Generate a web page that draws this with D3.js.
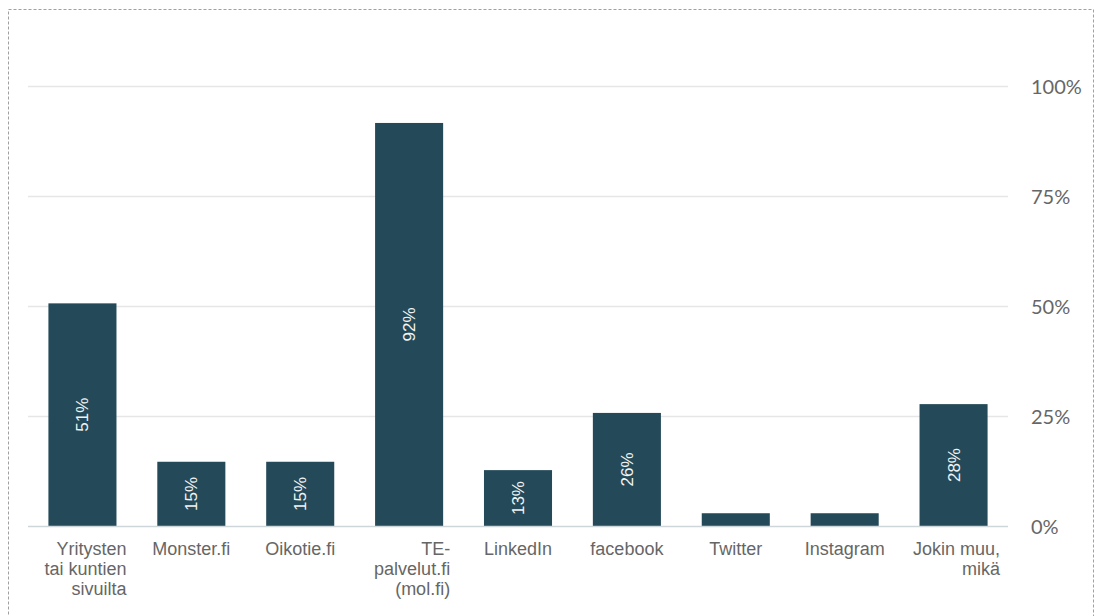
<!DOCTYPE html>
<html>
<head>
<meta charset="utf-8">
<script src="https://cdn.jsdelivr.net/npm/d3@7"></script>
<style>
  html, body { margin: 0; padding: 0; background: #fff; }
  svg { display: block; }
</style>
</head>
<body>
<svg id="chart" width="1101" height="616"></svg>
<script>
const categories = [
  "Yritysten\ntai kuntien\nsivuilta",
  "Monster.fi",
  "Oikotie.fi",
  "TE-\npalvelut.fi\n(mol.fi)",
  "LinkedIn",
  "facebook",
  "Twitter",
  "Instagram",
  "Jokin muu,\nmikä"
];
const values = [50.6, 14.6, 14.6, 91.6, 12.7, 25.7, 2.9, 2.9, 27.7];
const yTicks = [0, 25, 50, 75, 100];

const svg = d3.select("#chart");
const plot = { left: 28, right: 1008, top: 86, bottom: 526 };

// dashed frame
svg.append("rect")
  .attr("x", 8.5).attr("y", 9.5)
  .attr("width", 1085).attr("height", 620)
  .attr("fill", "none")
  .attr("stroke", "#a0a0a0")
  .attr("stroke-width", 1)
  .attr("stroke-dasharray", "3,2");

const x = d3.scaleBand()
  .domain(categories)
  .range([plot.left, plot.right])
  .paddingInner(0.375)
  .paddingOuter(0.1875);

const y = d3.scaleLinear()
  .domain([0, 100])
  .range([plot.bottom, plot.top]);

// gridlines
svg.append("g").selectAll("line")
  .data(yTicks.filter(d => d > 0))
  .join("line")
  .attr("x1", plot.left).attr("x2", plot.right)
  .attr("y1", d => Math.round(y(d)) + 0.5)
  .attr("y2", d => Math.round(y(d)) + 0.5)
  .attr("stroke", "#e6e6e6")
  .attr("stroke-width", 1.5);

// right axis labels
const yAxis = d3.axisRight(y)
  .tickValues(yTicks)
  .tickSize(0)
  .tickPadding(0)
  .tickFormat(d => d + "%");
const ya = svg.append("g")
  .attr("transform", `translate(1031,0)`)
  .call(yAxis);
ya.select(".domain").remove();
ya.selectAll("text")
  .attr("x", 0)
  .attr("dy", "0.35em")
  .attr("fill", "#666")
  .style("font-family", "Lato, 'Open Sans', sans-serif")
  .style("font-size", "20px");

// bars
svg.append("g").selectAll("rect")
  .data(values)
  .join("rect")
  .attr("x", (d, i) => x(categories[i]))
  .attr("width", x.bandwidth())
  .attr("y", d => y(d))
  .attr("height", d => y(0) - y(d))
  .attr("fill", "#244a59");

// baseline
svg.append("line")
  .attr("x1", plot.left).attr("x2", plot.right)
  .attr("y1", plot.bottom + 0.5).attr("y2", plot.bottom + 0.5)
  .attr("stroke", "#cfd6da")
  .attr("stroke-width", 1.5);

// value labels inside bars (rotated)
svg.append("g").selectAll("text")
  .data(values.map((v, i) => ({ v, i })).filter(d => y(0) - y(d.v) > 40))
  .join("text")
  .attr("transform", d => {
    const cx = x(categories[d.i]) + x.bandwidth() / 2;
    const cy = (y(d.v) + y(0)) / 2;
    return `translate(${cx},${cy}) rotate(-90)`;
  })
  .attr("text-anchor", "middle")
  .attr("dy", "0.35em")
  .attr("fill", "#f2f2f2")
  .style("font-family", "'Liberation Sans', Arial, sans-serif")
  .style("font-size", "17px")
  .text(d => Math.round(d.v) + "%");

// category labels (wrapped, right-aligned block centered under bar)
const lab = svg.append("g")
  .style("font-family", "'Liberation Sans', Arial, sans-serif")
  .style("font-size", "18px")
  .attr("fill", "#666");

categories.forEach((c, i) => {
  const lines = c.split("\n");
  const t = lab.append("text").attr("text-anchor", "end");
  lines.forEach((ln, k) => {
    t.append("tspan").attr("x", 0).attr("y", 555 + k * 20).text(ln);
  });
  let maxW = 0;
  t.selectAll("tspan").each(function () {
    maxW = Math.max(maxW, this.getComputedTextLength());
  });
  const cx = x(c) + x.bandwidth() / 2 + (lines.length > 1 ? 3 : 0);
  t.attr("transform", `translate(${cx + maxW / 2},0)`);
});
</script>
</body>
</html>
